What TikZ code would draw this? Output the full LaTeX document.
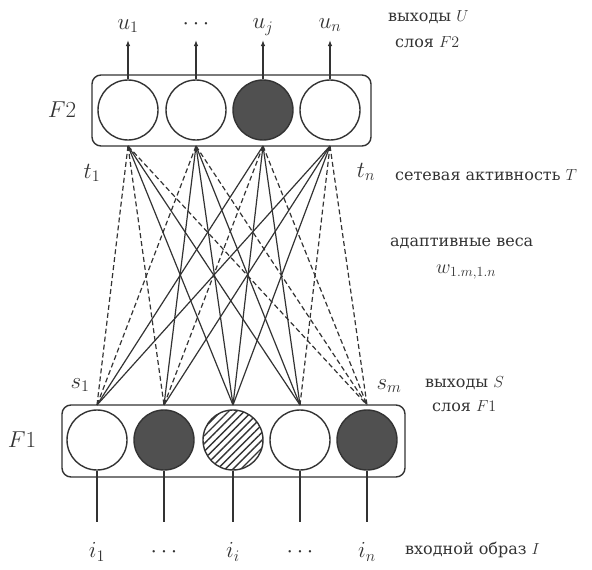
\RequirePackage{fix-cm}
\documentclass[tikz,border=0pt]{standalone}
\usepackage{fontspec}
\setmainfont{DejaVu Serif}
\usetikzlibrary{patterns.meta,arrows.meta}
\definecolor{ink}{HTML}{333333}
\definecolor{darkfill}{HTML}{505050}
\begin{document}
\begin{tikzpicture}[x=1pt,y=-1pt,
  neuron/.style={circle, draw=ink, line width=1.4pt, minimum size=60pt, inner sep=0pt},
  darkn/.style={neuron, fill=darkfill},
  hatchn/.style={neuron, pattern={Lines[angle=45,distance=5.5pt,line width=1.4pt]}, pattern color=ink},
  layerbox/.style={draw=ink, rounded corners=9pt, line width=1.4pt, inner sep=0pt},
  bu/.style={draw=ink, line width=1.2pt},
  td/.style={draw=ink, line width=1.2pt, dash pattern=on 5pt off 3pt},
  io/.style={draw=ink, line width=1.3pt},
  outarrow/.style={io, -{Latex[length=6pt,width=4.5pt]}},
  lbl/.style={font=\fontsize{23}{27}\selectfont, text=ink, inner sep=0pt},
  txt/.style={font=\fontsize{16}{19}\selectfont, text=ink, inner sep=0pt, anchor=west}]
\useasboundingbox (0,0) rectangle (592,570);
% layer boxes
\node[layerbox, minimum width=279pt, minimum height=71pt] (F2box) at (231.5,110.5) {};
\node[layerbox, minimum width=343pt, minimum height=72pt] (F1box) at (233.5,441) {};
% F2 neurons
\node[neuron] (a1) at (128,110) {};
\node[neuron] (a2) at (196,110) {};
\node[darkn]  (a3) at (263,110) {};
\node[neuron] (a4) at (330,110) {};
% F1 neurons
\node[neuron] (b1) at (97,440) {};
\node[darkn]  (b2) at (164,440) {};
\node[hatchn] (b3) at (233,440) {};
\node[neuron] (b4) at (300,440) {};
\node[darkn]  (b5) at (367,440) {};
% connection points
\foreach \j/\x in {1/128,2/196,3/263,4/330} \coordinate (t\j) at (\x,146);
\foreach \i/\x in {1/97,2/164,3/233,4/300,5/367} \coordinate (s\i) at (\x,405);
% adaptive weights
\draw[td] (t1) -- (s1); \draw[td] (t2) -- (s1); \draw[bu] (t3) -- (s1); \draw[bu] (t4) -- (s1);
\draw[td] (t1) -- (s2); \draw[bu] (t2) -- (s2); \draw[td] (t3) -- (s2); \draw[bu] (t4) -- (s2);
\draw[bu] (t1) -- (s3); \draw[bu] (t2) -- (s3); \draw[bu] (t3) -- (s3); \draw[bu] (t4) -- (s3);
\draw[bu] (t1) -- (s4); \draw[bu] (t2) -- (s4); \draw[bu] (t3) -- (s4); \draw[td] (t4) -- (s4);
\draw[td] (t1) -- (s5); \draw[td] (t2) -- (s5); \draw[td] (t3) -- (s5); \draw[td] (t4) -- (s5);
% outputs
\foreach \j/\x in {1/128,2/196,3/263,4/330} {
  \coordinate (o\j) at (\x,40);
  \draw[outarrow] (a\j.north) -- (o\j);
}
% inputs
\foreach \i/\x in {1/97,2/164,3/233,4/300,5/367} {
  \coordinate (in\i) at (\x,522);
  \draw[io] (b\i.south) -- (in\i);
}
% labels
\node[lbl] (lu1) at (128,26) {$u_1$};
\node[lbl] (lu2) at (196,24) {$\cdots$};
\node[lbl] (lu3) at (263,27) {$u_j$};
\node[lbl] (lu4) at (330,25) {$u_n$};
\node[lbl] (lF2) at (62,110) {$F2$};
\node[lbl] (lF1) at (22,440) {$F1$};
\node[lbl] (lt1) at (92,173) {$t_1$};
\node[lbl] (ltn) at (366,172) {$t_n$};
\node[lbl] (ls1) at (80,385) {$s_1$};
\node[lbl] (lsm) at (389,386) {$s_m$};
\node[lbl] (li1) at (97,552) {$i_1$};
\node[lbl] (li2) at (164,552) {$\cdots$};
\node[lbl] (li3) at (233,552) {$i_i$};
\node[lbl] (li4) at (300,552) {$\cdots$};
\node[lbl] (li5) at (367,552) {$i_n$};
\node[txt] (tU) at (388,17) {выходы $U$};
\node[txt] (tF2) at (395,42) {слоя $F2$};
\node[txt] (tT) at (395,175) {сетевая активность $T$};
\node[txt] (tw) at (390,243) {адаптивные веса};
\node[txt] (tw2) at (436,272) {\fontsize{20}{24}\selectfont$w_{1.m,1.n}$};
\node[txt] (tS) at (425,383) {выходы $S$};
\node[txt] (tF1) at (432,406) {слоя $F1$};
\node[txt] (tI) at (405,550) {входной образ $I$};
\end{tikzpicture}
\end{document}
